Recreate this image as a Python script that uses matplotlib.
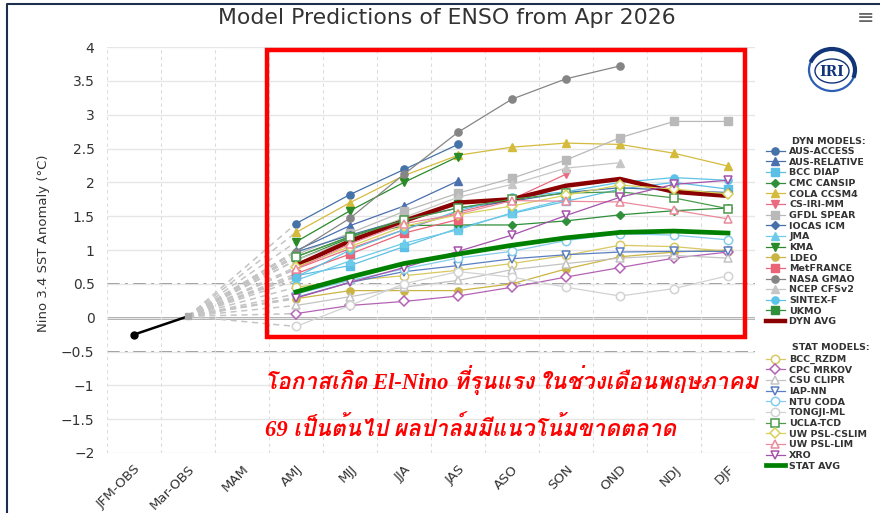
import numpy as np
import matplotlib
matplotlib.use("Agg")
import matplotlib.pyplot as plt
from matplotlib.patches import Rectangle, Ellipse, Arc
from matplotlib import font_manager

# ---------------------------------------------------------------- data
seasons = ["JFM-OBS", "Mar-OBS", "MAM", "AMJ", "MJJ", "JJA", "JAS",
           "ASO", "SON", "OND", "NDJ", "DJF"]
obs_values = [-0.25, 0.02]          # JFM-OBS, Mar-OBS
first_fc = 3                        # forecasts start at AMJ

# dynamical models (AMJ onward)
aus_access   = [1.39, 1.82, 2.19, 2.56]
aus_relative = [0.99, 1.36, 1.65, 2.02]
bcc_diap     = [0.62, 0.77, 1.05, 1.32, 1.54, 1.72, 1.90, 2.00, 1.90]
cmc_cansip   = [0.85, 1.18, 1.36, 1.37, 1.37, 1.43, 1.52, 1.58, 1.62]
cola_ccsm4   = [1.26, 1.70, 2.10, 2.40, 2.52, 2.58, 2.56, 2.43, 2.24]
cs_iri_mm    = [0.72, 1.02, 1.30, 1.56, 1.75, 2.12]
gfdl_spear   = [0.93, 1.25, 1.57, 1.84, 2.06, 2.33, 2.66, 2.90, 2.90]
iocas_icm    = [0.97, 1.22, 1.45, 1.62, 1.72, 1.85, 1.92, 1.88, 1.85]
jma          = [0.55, 0.84, 1.10, 1.30, 1.55, 1.75]
kma          = [1.12, 1.58, 2.00, 2.38]
ldeo         = [0.28, 0.40, 0.40, 0.40, 0.50, 0.72, 0.90, 0.97, 1.00]
metfrance    = [0.65, 0.94, 1.25, 1.45]
nasa_gmao    = [0.97, 1.47, 2.12, 2.74, 3.23, 3.53, 3.72]
ncep_cfsv2   = [0.85, 1.15, 1.48, 1.78, 1.97, 2.21, 2.29]
sintex_f     = [0.60, 1.00, 1.30, 1.58, 1.78, 1.86, 2.00, 2.07, 2.03]
ukmo         = [0.90, 1.20, 1.45, 1.68]
dyn_avg      = [0.77, 1.13, 1.43, 1.70, 1.75, 1.95, 2.05, 1.86, 1.80]

# statistical models (AMJ onward)
bcc_rzdm     = [0.45, 0.55, 0.62, 0.70, 0.80, 0.92, 1.07, 1.05, 0.98]
cpc_mrkov    = [0.06, 0.18, 0.24, 0.32, 0.45, 0.60, 0.74, 0.88, 0.97]
csu_clipr    = [0.18, 0.31, 0.45, 0.55, 0.71, 0.80, 0.88, 0.92, 0.88]
iap_nn       = [0.30, 0.52, 0.68, 0.77, 0.87, 0.93, 0.97, 0.98, 0.98]
ntu_coda     = [0.35, 0.55, 0.72, 0.88, 0.98, 1.14, 1.24, 1.22, 1.15]
tongji_ml    = [-0.13, 0.18, 0.50, 0.68, 0.60, 0.45, 0.32, 0.43, 0.62]
ucla_tcd     = [0.90, 1.19, 1.44, 1.62, 1.75, 1.84, 1.86, 1.77, 1.61]
uw_psl_cslim = [0.75, 1.05, 1.35, 1.52, 1.65, 1.81, 1.96, 1.90, 1.83]
uw_psl_lim   = [0.72, 1.09, 1.39, 1.53, 1.73, 1.72, 1.71, 1.59, 1.46]
xro          = [0.29, 0.52, 0.74, 0.98, 1.22, 1.51, 1.78, 1.97, 2.03]
stat_avg     = [0.38, 0.60, 0.80, 0.94, 1.07, 1.18, 1.26, 1.28, 1.25]

# (label, values, colour, marker)
dyn_series = [
    ("AUS-ACCESS", aus_access, "#4572a7", "o"),
    ("AUS-RELATIVE", aus_relative, "#4a6fae", "^"),
    ("BCC DIAP", bcc_diap, "#5cbfe6", "s"),
    ("CMC CANSIP", cmc_cansip, "#2f8f3a", "D"),
    ("COLA CCSM4", cola_ccsm4, "#d5bb3c", "^"),
    ("CS-IRI-MM", cs_iri_mm, "#ea6a80", "v"),
    ("GFDL SPEAR", gfdl_spear, "#b9b9b9", "s"),
    ("IOCAS ICM", iocas_icm, "#4670aa", "D"),
    ("JMA", jma, "#6ccbe8", "^"),
    ("KMA", kma, "#2a8a2a", "v"),
    ("LDEO", ldeo, "#cab443", "o"),
    ("MetFRANCE", metfrance, "#e96476", "s"),
    ("NASA GMAO", nasa_gmao, "#858585", "o"),
    ("NCEP CFSv2", ncep_cfsv2, "#c6c6c6", "^"),
    ("SINTEX-F", sintex_f, "#5cc3e8", "o"),
    ("UKMO", ukmo, "#2f8f3a", "s"),
]
stat_series = [
    ("BCC_RZDM", bcc_rzdm, "#d8c862", "o"),
    ("CPC MRKOV", cpc_mrkov, "#b463b4", "D"),
    ("CSU CLIPR", csu_clipr, "#c3c3c3", "^"),
    ("IAP-NN", iap_nn, "#5b7fc2", "v"),
    ("NTU CODA", ntu_coda, "#85cbea", "o"),
    ("TONGJI-ML", tongji_ml, "#d2d2d2", "o"),
    ("UCLA-TCD", ucla_tcd, "#4c9a4c", "s"),
    ("UW PSL-CSLIM", uw_psl_cslim, "#d8d158", "D"),
    ("UW PSL-LIM", uw_psl_lim, "#ea8a9c", "^"),
    ("XRO", xro, "#a552aa", "v"),
]


def thai_font():
    """First installed family that carries Thai glyphs."""
    try:
        from fontTools.ttLib import TTFont
    except Exception:
        return None
    for f in font_manager.fontManager.ttflist:
        try:
            cmap = TTFont(f.fname, fontNumber=0, lazy=True).getBestCmap()
        except Exception:
            continue
        if cmap and 0x0E01 in cmap and 0x0E35 in cmap and 0x0E4C in cmap:
            return f.name
    return None


# ---------------------------------------------------------------- figure
W, H = 880, 513
fig = plt.figure(figsize=(W / 100, H / 100), dpi=100)
fig.patch.set_facecolor("white")

ax = fig.add_axes([107 / W, 1 - 453 / H, (755 - 107) / W, (453 - 47) / H])
ax.set_xlim(-0.5, len(seasons) - 0.5)
ax.set_ylim(-2, 4)
for s in ax.spines.values():
    s.set_visible(False)

yt = np.arange(-2, 4.01, 0.5)
ax.set_yticks(yt)
ax.set_yticklabels([f"{v:g}".replace("-", "\u2212") for v in yt],
                   fontsize=10, color="#333333")
ax.set_xticks(range(len(seasons)))
ax.set_xticklabels(seasons, rotation=45, ha="right", va="top",
                   rotation_mode="anchor", fontsize=9.5, color="#333333")
ax.set_xticks(np.arange(-0.5, len(seasons), 1), minor=True)
ax.tick_params(axis="y", length=0, pad=9)
ax.tick_params(axis="x", which="both", length=0, pad=7)
ax.grid(which="major", axis="y", color="#e6e6e6", lw=1.0, zorder=0)
ax.grid(which="minor", axis="x", color="#dcdcdc", lw=0.8,
        ls=(0, (3, 3)), zorder=0)
ax.grid(which="major", axis="x", visible=False)

# reference lines
ax.axhline(0, color="#8e8e8e", lw=1.8, zorder=1)
for yv in (0.5, -0.5):
    ax.axhline(yv, color="#8a8a8a", lw=1.3, ls=(0, (7, 3, 1.5, 3)), zorder=1)

x_fc = np.arange(first_fc, len(seasons))

# connectors from the last observation to the first forecast season
for _, vals, _, _ in dyn_series + stat_series:
    ax.plot([1, first_fc], [obs_values[1], vals[0]], color="#c4c4c4",
            lw=1.1, ls=(0, (4, 3)), zorder=2)

# observations
ax.plot([0, 1], obs_values, color="black", lw=1.8, zorder=6)
ax.plot([0], [obs_values[0]], "o", color="black", ms=5, zorder=6)
ax.plot([1], [obs_values[1]], "s", color="#aaaaaa", ms=5, zorder=6)

dyn_handles = []
for name, vals, col, mk in dyn_series:
    ms = 4.0 if mk == "D" else 5.2
    ln, = ax.plot(x_fc[:len(vals)], vals, color=col, lw=0.9, marker=mk,
                  ms=ms, mec=col, mfc=col, zorder=3, label=name)
    dyn_handles.append(ln)
ln, = ax.plot(x_fc[:len(dyn_avg)], dyn_avg, color="#8b0000", lw=3.2,
              zorder=4, label="DYN AVG")
dyn_handles.append(ln)

stat_handles = []
for name, vals, col, mk in stat_series:
    ms = 5.0 if mk == "D" else 6.0
    ln, = ax.plot(x_fc[:len(vals)], vals, color=col, lw=0.9, marker=mk,
                  ms=ms, mec=col, mfc="white", mew=1.1, zorder=4.5,
                  label=name)
    stat_handles.append(ln)
ln, = ax.plot(x_fc[:len(stat_avg)], stat_avg, color="#008000", lw=3.4,
              zorder=5, label="STAT AVG")
stat_handles.append(ln)

# ---------------------------------------------------------------- text
fig.text(447 / W, 1 - 18 / H, "Model Predictions of ENSO from Apr 2026",
         ha="center", va="center", fontsize=15.8, color="#333333")
fig.text(866 / W, 1 - 18 / H, "\u2261", ha="center", va="center",
         fontsize=15, color="#666666")
fig.text(43 / W, 1 - 243 / H, "Nino 3.4 SST Anomaly (\u00b0C)",
         rotation=90, ha="center", va="center", fontsize=9.5,
         color="#333333")

leg_kw = dict(loc="upper left", frameon=False, handlelength=2.0,
              handletextpad=0.45, labelspacing=0.175, borderpad=0,
              borderaxespad=0, prop={"size": 6.8, "weight": "bold"})
lg1 = fig.legend(handles=dyn_handles, bbox_to_anchor=(766 / W, 1 - 147 / H),
                 **leg_kw)
lg2 = fig.legend(handles=stat_handles, bbox_to_anchor=(766 / W, 1 - 355 / H),
                 **leg_kw)
for lg in (lg1, lg2):
    for t in lg.get_texts():
        t.set_color("#333333")
fig.text(792 / W, 1 - 141 / H, "DYN MODELS:", ha="left", va="center",
         fontsize=6.8, fontweight="bold", color="#333333")
fig.text(792 / W, 1 - 347 / H, "STAT MODELS:", ha="left", va="center",
         fontsize=6.8, fontweight="bold", color="#333333")

# overlay in pixel units for the frame, logo, highlight box and note
deco = fig.add_axes([0, 0, 1, 1], zorder=10)
deco.set_xlim(0, W)
deco.set_ylim(H, 0)
deco.axis("off")
deco.patch.set_visible(False)

deco.plot([7, 7, W], [H, 4, 4], color="#1d2f4d", lw=1.5,
          solid_joinstyle="round")

deco.add_patch(Ellipse((832, 70), 46, 42, fc="white", ec="#2c5fb3", lw=1.6))
deco.add_patch(Arc((832, 70), 46, 42, theta1=200, theta2=20,
                   ec="#12357a", lw=3.0))
deco.add_patch(Ellipse((832, 71), 34, 24, fc="white", ec="#12357a", lw=1.0))
deco.text(832, 71.5, "IRI", ha="center", va="center", fontsize=10,
          fontweight="bold", family="DejaVu Serif", color="#12357a")

deco.add_patch(Rectangle((267, 50), 478, 287, fill=False, ec="#ff0000",
                         lw=3.2))

th = thai_font()
fam = ["Liberation Serif"] + ([th] if th else []) + ["DejaVu Sans"]
note_kw = dict(ha="left", va="center", fontsize=16.3, color="#ff0000",
               fontweight="bold", style="italic", family=fam)
deco.text(265, 380, "โอกาสเกิด El-Nino ที่รุนแรง ในช่วงเดือนพฤษภาคม",
          **note_kw)
deco.text(265, 429, "69 เป็นต้นไป ผลปาล์มมีแนวโน้มขาดตลาด", **note_kw)

fig.savefig("out.png", dpi=100, facecolor="white")
